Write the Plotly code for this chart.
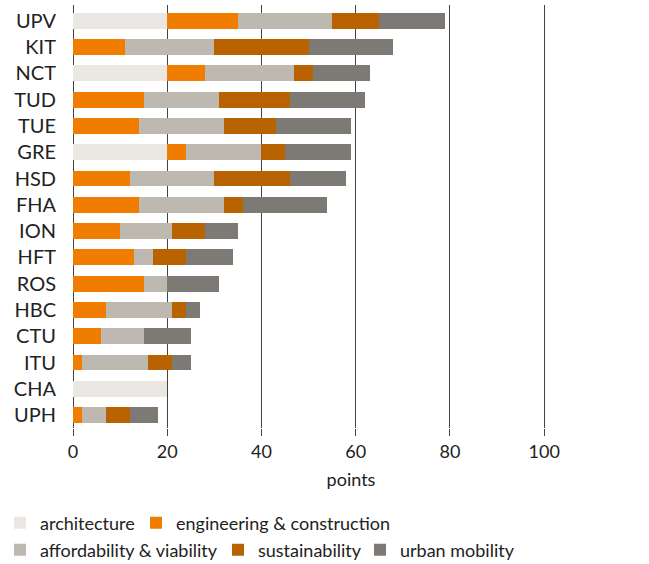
import plotly.graph_objects as go

universities = ["UPV", "KIT", "NCT", "TUD", "TUE", "GRE", "HSD", "FHA",
                "ION", "HFT", "ROS", "HBC", "CTU", "ITU", "CHA", "UPH"]
architecture = [20, 0, 20, 0, 0, 20, 0, 0, 0, 0, 0, 0, 0, 0, 20, 0]
engineering = [15, 11, 8, 15, 14, 4, 12, 14, 10, 13, 15, 7, 6, 2, 0, 2]
affordability = [20, 19, 19, 16, 18, 16, 18, 18, 11, 4, 5, 14, 9, 14, 0, 5]
sustainability = [10, 20, 4, 15, 11, 5, 16, 4, 7, 7, 0, 3, 0, 5, 0, 5]
urban_mobility = [14, 18, 12, 16, 16, 14, 12, 18, 7, 10, 11, 3, 10, 4, 0, 6]

series = [
    ("architecture", architecture, "#ebe8e4"),
    ("engineering & construction", engineering, "#f07d00"),
    ("affordability & viability", affordability, "#bdb9b1"),
    ("sustainability", sustainability, "#b86200"),
    ("urban mobility", urban_mobility, "#7d7975"),
]

# legend positions (container px): x of legend, y center
legend_pos = [(-4, 523), (136, 523), (-4, 550), (218, 550), (360, 550)]

W, H = 649, 564
font = "Lato, 'Open Sans', sans-serif"
fig = go.Figure()
layout_legends = {}
for i, (name, vals, col) in enumerate(series):
    lname = "legend" if i == 0 else f"legend{i+1}"
    fig.add_trace(go.Bar(
        y=universities, x=vals, name=name, orientation="h",
        marker=dict(color=col, line=dict(width=0)),
        legend=lname,
    ))
    lx, ly = legend_pos[i]
    layout_legends[lname] = dict(
        x=lx / W, y=1 - ly / H, xref="container", yref="container",
        xanchor="left", yanchor="middle", orientation="h",
        font=dict(size=18, color="#222", family=font),
        bgcolor="rgba(0,0,0,0)", borderwidth=0,
    )

fig.update_layout(
    width=W, height=H,
    barmode="stack", bargap=0.4,
    margin=dict(l=73, r=20, t=5, b=136, autoexpand=False),
    plot_bgcolor="white", paper_bgcolor="white",
    font=dict(family=font, color="#222"),
    showlegend=True,
    **layout_legends,
)
fig.update_xaxes(
    range=[0, 118], tick0=0, dtick=20,
    showgrid=True, gridcolor="#444", gridwidth=1,
    zeroline=True, zerolinecolor="#444", zerolinewidth=1,
    ticks="outside", ticklen=7, tickcolor="#444",
    tickfont=dict(size=18, color="#222"),
    title=dict(text="points", font=dict(size=18, color="#222"), standoff=12),
    showline=False, automargin=False,
)
fig.update_yaxes(
    range=[15.49, -0.6], showgrid=False, zeroline=False, showline=False,
    ticks="", tickfont=dict(size=20, color="#222"), ticklabelstandoff=16,
    automargin=False,
)
fig.write_html("out.html", config={"displayModeBar": False},
               post_script="document.body.style.margin='0px';")
